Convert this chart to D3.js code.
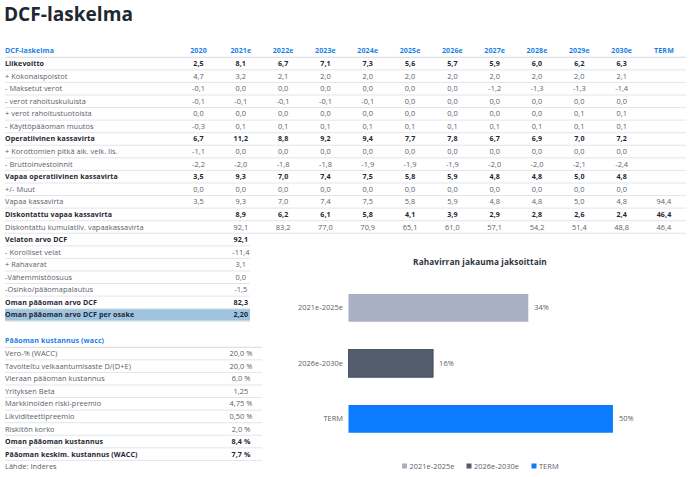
<!DOCTYPE html>
<html>
<head>
<meta charset="utf-8">
<script src="https://cdn.jsdelivr.net/npm/d3@7"></script>
<style>
  html, body { margin: 0; padding: 0; background: #fff; }
  svg { display: block; font-family: "Open Sans", sans-serif; }
</style>
</head>
<body>
<svg id="chart" width="690" height="477"></svg>
<script>
// ---------- DATA ----------
const title = "DCF-laskelma";
const columns = ["2020","2021e","2022e","2023e","2024e","2025e","2026e","2027e","2028e","2029e","2030e","TERM"];

const rowLabels = [
  "Liikevoitto", "+ Kokonaispoistot", "- Maksetut verot", "- verot rahoituskuluista",
  "+ verot rahoitustuotoista", "- Käyttöpääoman muutos", "Operatiivinen kassavirta",
  "+ Korottomien pitkä aik. velk. lis.", "- Bruttoinvestoinnit", "Vapaa operatiivinen kassavirta",
  "+/- Muut", "Vapaa kassavirta", "Diskontattu vapaa kassavirta", "Diskontattu kumulatiiv. vapaakassavirta"
];
const boldRows = ["Liikevoitto", "Operatiivinen kassavirta", "Vapaa operatiivinen kassavirta", "Diskontattu vapaa kassavirta"];

const liikevoitto      = [2.5, 8.1, 6.7, 7.1, 7.3, 5.6, 5.7, 5.9, 6.0, 6.2, 6.3, null];
const kokonaispoistot  = [4.7, 3.2, 2.1, 2.0, 2.0, 2.0, 2.0, 2.0, 2.0, 2.0, 2.1, null];
const maksetutVerot    = [-0.1, 0.0, 0.0, 0.0, 0.0, 0.0, 0.0, -1.2, -1.3, -1.3, -1.4, null];
const verotRahKulut    = [-0.1, -0.1, -0.1, -0.1, -0.1, 0.0, 0.0, 0.0, 0.0, 0.0, 0.0, null];
const verotRahTuotot   = [0.0, 0.0, 0.0, 0.0, 0.0, 0.0, 0.0, 0.0, 0.0, 0.1, 0.1, null];
const kayttopaaoma     = [-0.3, 0.1, 0.1, 0.1, 0.1, 0.1, 0.1, 0.1, 0.1, 0.1, 0.1, null];
const operatiivinenKv  = [6.7, 11.2, 8.8, 9.2, 9.4, 7.7, 7.8, 6.7, 6.9, 7.0, 7.2, null];
const korottomat       = [-1.1, 0.0, 0.0, 0.0, 0.0, 0.0, 0.0, 0.0, 0.0, 0.0, 0.0, null];
const bruttoinvest     = [-2.2, -2.0, -1.8, -1.8, -1.9, -1.9, -1.9, -2.0, -2.0, -2.1, -2.4, null];
const vapaaOperKv      = [3.5, 9.3, 7.0, 7.4, 7.5, 5.8, 5.9, 4.8, 4.8, 5.0, 4.8, null];
const muut             = [0.0, 0.0, 0.0, 0.0, 0.0, 0.0, 0.0, 0.0, 0.0, 0.0, 0.0, null];
const vapaaKv          = [3.5, 9.3, 7.0, 7.4, 7.5, 5.8, 5.9, 4.8, 4.8, 5.0, 4.8, 94.4];
const diskVapaaKv      = [null, 8.9, 6.2, 6.1, 5.8, 4.1, 3.9, 2.9, 2.8, 2.6, 2.4, 46.4];
const diskKumul        = [null, 92.1, 83.2, 77.0, 70.9, 65.1, 61.0, 57.1, 54.2, 51.4, 48.8, 46.4];

const valueLabels = ["Velaton arvo DCF", "- Korolliset velat", "+ Rahavarat", "-Vähemmistöosuus",
  "-Osinko/pääomapalautus", "Oman pääoman arvo DCF", "Oman pääoman arvo DCF per osake"];
const valueValues = ["92,1", "-11,4", "3,1", "0,0", "-1,5", "82,3", "2,20"];
const valueBold = ["Velaton arvo DCF", "Oman pääoman arvo DCF", "Oman pääoman arvo DCF per osake"];

const waccTitle = "Pääoman kustannus (wacc)";
const waccLabels = ["Vero-% (WACC)", "Tavoiteltu velkaantumisaste D/(D+E)", "Vieraan pääoman kustannus",
  "Yrityksen Beta", "Markkinoiden riski-preemio", "Likviditeettipreemio", "Riskitön korko",
  "Oman pääoman kustannus", "Pääoman keskim. kustannus (WACC)"];
const waccValues = ["20,0 %", "20,0 %", "6,0 %", "1,25", "4,75 %", "0,50 %", "2,0 %", "8,4 %", "7,7 %"];
const waccBold = ["Oman pääoman kustannus", "Pääoman keskim. kustannus (WACC)"];
const source = "Lähde: Inderes";

const barTitle = "Rahavirran jakauma jaksoittain";
const periods = ["2021e-2025e", "2026e-2030e", "TERM"];
const shares = [34, 16, 50];
const barColors = ["#aab0c3", "#535d6e", "#0a7cfd"];

// ---------- DRAW ----------
const svg = d3.select("#chart");
const dark = "#1f2733", grey = "#5a6068", blue = "#1a7fe6", lineC = "#e3e5e8";
const rowH = 12.57;
const leftX = 5;

// fit a font size so that a sample string has the target width
function fitSize(sample, weight, spacing, target) {
  const t = svg.append("text").attr("font-size", 10).attr("font-weight", weight)
    .attr("letter-spacing", spacing).text(sample);
  const w10 = t.node().getComputedTextLength();
  t.remove();
  const n = sample.length;
  return 10 * (target - spacing * n) / (w10 - spacing * n);
}
const regSp = 0.05, bldSp = 0.1;
const regFs = fitSize("Diskontattu kumulatiiv. vapaakassavirta", 400, regSp, 139);
const bldFs = fitSize("Vapaa operatiivinen kassavirta", 700, bldSp, 113);
const titleFs = fitSize(title, 700, 0, 129);
const barTitleFs = fitSize(barTitle, 700, bldSp, 134);

function styleText(sel, b) {
  return sel.attr("font-size", b ? bldFs : regFs).attr("font-weight", b ? 700 : 400)
    .attr("letter-spacing", b ? bldSp : regSp).attr("fill", b ? dark : grey);
}
function styleHdr(sel) {
  return sel.attr("font-size", bldFs).attr("font-weight", 700).attr("letter-spacing", bldSp).attr("fill", blue);
}

const mainValues = [liikevoitto, kokonaispoistot, maksetutVerot, verotRahKulut, verotRahTuotot,
  kayttopaaoma, operatiivinenKv, korottomat, bruttoinvest, vapaaOperKv, muut, vapaaKv, diskVapaaKv, diskKumul];

const fmt = v => v == null ? "" : d3.format(".1f")(v).replace("−", "-").replace(".", ",");

svg.append("text").attr("x", 4).attr("y", 21)
  .attr("font-size", titleFs).attr("font-weight", 700).attr("fill", dark).text(title);

// column scale
const xCol = d3.scalePoint().domain(columns).range([198.5, 664]);
const headerY = 51;
const yRow = i => headerY + rowH * (i + 1);

// header
styleHdr(svg.append("text").attr("x", leftX).attr("y", headerY).attr("dy", "0.35em").text(title));
styleHdr(svg.selectAll("text.colh").data(columns).join("text").attr("class", "colh")
  .attr("x", d => xCol(d)).attr("y", headerY).attr("dy", "0.35em").attr("text-anchor", "middle").text(d => d));

// lines for main table
const fullRight = 686;
for (let i = 0; i <= rowLabels.length; i++) {
  svg.append("line").attr("x1", leftX).attr("x2", fullRight)
    .attr("y1", headerY + rowH * i + rowH / 2).attr("y2", headerY + rowH * i + rowH / 2)
    .attr("stroke", i === 0 ? "#d6d9dd" : lineC).attr("stroke-width", 1);
}

rowLabels.forEach((lab, i) => {
  const b = boldRows.includes(lab);
  const g = svg.append("g");
  styleText(g.append("text").attr("x", leftX).attr("y", yRow(i)).attr("dy", "0.35em").text(lab), b);
  styleText(g.selectAll("text.v").data(mainValues[i]).join("text").attr("class", "v")
    .attr("x", (d, j) => xCol(columns[j])).attr("y", yRow(i)).attr("dy", "0.35em")
    .attr("text-anchor", "middle").text(d => fmt(d)), b);
});

// value section
const vStart = rowLabels.length;
const midRight = 250;
valueLabels.forEach((lab, k) => {
  const i = vStart + k;
  const b = valueBold.includes(lab);
  if (k === valueLabels.length - 1) {
    svg.append("rect").attr("x", leftX).attr("y", yRow(i) - rowH / 2 + 0.5)
      .attr("width", midRight - leftX).attr("height", rowH - 1).attr("fill", "#9ec4df");
  }
  svg.append("line").attr("x1", leftX).attr("x2", midRight)
    .attr("y1", yRow(i) + rowH / 2).attr("y2", yRow(i) + rowH / 2).attr("stroke", lineC);
  styleText(svg.append("text").attr("x", leftX).attr("y", yRow(i)).attr("dy", "0.35em").text(lab), b);
  styleText(svg.append("text").attr("x", xCol("2021e")).attr("y", yRow(i)).attr("dy", "0.35em")
    .attr("text-anchor", "middle").text(valueValues[k]), b);
});

// WACC table
const wY0 = 341;
const wRight = 262;
styleHdr(svg.append("text").attr("x", leftX).attr("y", wY0).attr("dy", "0.35em").text(waccTitle));
svg.append("line").attr("x1", leftX).attr("x2", wRight).attr("y1", wY0 + rowH / 2).attr("y2", wY0 + rowH / 2).attr("stroke", "#d6d9dd");
waccLabels.forEach((lab, k) => {
  const y = wY0 + rowH * (k + 1);
  const b = waccBold.includes(lab);
  svg.append("line").attr("x1", leftX).attr("x2", wRight).attr("y1", y + rowH / 2).attr("y2", y + rowH / 2).attr("stroke", lineC);
  styleText(svg.append("text").attr("x", leftX).attr("y", y).attr("dy", "0.35em").text(lab), b);
  styleText(svg.append("text").attr("x", 241).attr("y", y).attr("dy", "0.35em").attr("text-anchor", "middle").text(waccValues[k]), b);
});
styleText(svg.append("text").attr("x", leftX).attr("y", wY0 + rowH * (waccLabels.length + 1)).attr("dy", "0.35em").text(source), false);

// Bar chart
svg.append("text").attr("x", 480).attr("y", 262).attr("dy", "0.35em").attr("text-anchor", "middle")
  .attr("font-size", barTitleFs).attr("font-weight", 700).attr("letter-spacing", bldSp).attr("fill", "#2b323c").text(barTitle);

const xBar = d3.scaleLinear().domain([0, 60]).range([348.5, 665.8]);
const yBar = d3.scaleBand().domain(periods).range([266.25, 460.5]).paddingInner(0.5).paddingOuter(0.5);

svg.selectAll("rect.bar").data(periods).join("rect").attr("class", "bar")
  .attr("x", xBar(0)).attr("y", d => yBar(d))
  .attr("width", (d, i) => xBar(shares[i]) - xBar(0)).attr("height", yBar.bandwidth())
  .attr("fill", (d, i) => barColors[i])
  .attr("stroke", (d, i) => i === 1 ? "#3b4350" : "none").attr("stroke-width", 0.8);

styleText(svg.selectAll("text.blab").data(periods).join("text").attr("class", "blab")
  .attr("x", d => xBar(shares[periods.indexOf(d)]) + 6).attr("y", d => yBar(d) + yBar.bandwidth() / 2)
  .attr("dy", "0.35em").text((d, i) => shares[i] + "%"), false);

styleText(svg.selectAll("text.cat").data(periods).join("text").attr("class", "cat")
  .attr("x", 343).attr("y", d => yBar(d) + yBar.bandwidth() / 2)
  .attr("dy", "0.35em").attr("text-anchor", "end").text(d => d), false);

// legend
const legX = [402, 466.5, 531.5];
const leg = svg.selectAll("g.leg").data(periods).join("g").attr("class", "leg")
  .attr("transform", (d, i) => `translate(${legX[i]},466)`);
leg.append("rect").attr("x", 0).attr("y", -2.5).attr("width", 5).attr("height", 5).attr("fill", (d, i) => barColors[i]);
styleText(leg.append("text").attr("x", 7.5).attr("y", 0).attr("dy", "0.35em").text(d => d), false);
</script>
</body>
</html>
